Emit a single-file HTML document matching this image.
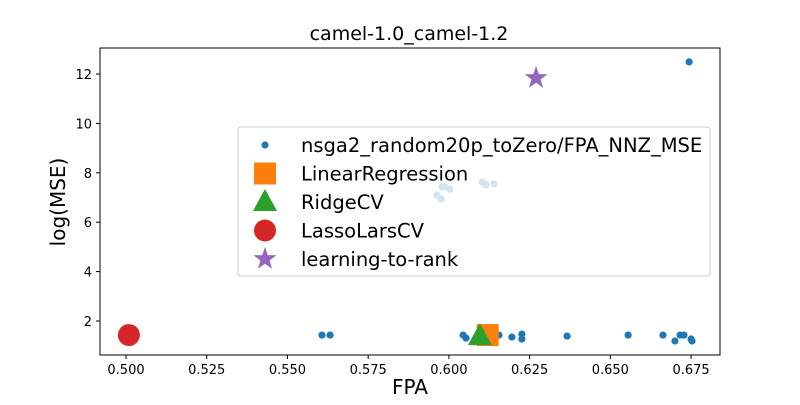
<!DOCTYPE html>
<html><head><meta charset="utf-8"><style>
body{margin:0;background:#fff}
svg{font-family:"DejaVu Sans","Liberation Sans",sans-serif}
</style></head><body>
<svg id="c" width="800" height="400" xmlns="http://www.w3.org/2000/svg"></svg>
<script>
const ptsFPA=[0.5607,0.5632,0.6044,0.6053,0.6155,0.6195,0.6226,0.6226,0.6366,0.6555,0.6663,0.6700,0.6716,0.6728,0.6753,0.6750,0.6744,0.5963,0.5976,0.5979,0.5988,0.6003,0.6103,0.6115,0.6140];
const ptsMSE=[1.43,1.43,1.43,1.31,1.43,1.35,1.47,1.27,1.39,1.43,1.43,1.19,1.43,1.43,1.19,1.27,12.49,7.10,6.94,7.43,7.43,7.34,7.63,7.51,7.55];
const lrPt=[0.612,1.43];
const ridgePt=[0.6096,1.39];
const lassoPt=[0.5009,1.43];
const ltrPt=[0.627,11.84];
const xTicks=[0.500,0.525,0.550,0.575,0.600,0.625,0.650,0.675];
const yTicks=[2,4,6,8,10,12];
const legendLabels=["nsga2_random20p_toZero/FPA_NNZ_MSE","LinearRegression","RidgeCV","LassoLarsCV","learning-to-rank"];

const L=100,R=720,T=48,B=355;
const x=f=>126+(f-0.5)*3229;
const y=v=>321-(v-2)*24.7;
const svg=document.getElementById('c');
const NS="http://www.w3.org/2000/svg";
function mk(tag,a,parent){const e=document.createElementNS(NS,tag);for(const k in a)e.setAttribute(k,a[k]);(parent||svg).appendChild(e);return e;}

let t=mk('text',{x:409,y:40,'text-anchor':'middle','font-size':19});t.textContent='camel-1.0_camel-1.2';



const pg=mk('g',{});


ptsFPA.forEach((f,i)=>{const c=mk('circle',{cx:x(f),cy:y(ptsMSE[i]),r:3.6,fill:'#1f77b4'},pg);

});

let e;
e=mk('rect',{x:x(lrPt[0])-11,y:y(lrPt[1])-11,width:22,height:22,fill:'#ff7f0e'});


const tx=x(ridgePt[0]),ty=y(ridgePt[1]);
e=mk('polygon',{points:`${tx},${ty-13} ${tx-12},${ty+9} ${tx+12},${ty+9}`,fill:'#2ca02c'});


e=mk('circle',{cx:x(lassoPt[0]),cy:y(lassoPt[1]),r:11,fill:'#d62728'});


function star(cx,cy,r){let p=[];for(let i=0;i<10;i++){const a=-Math.PI/2+i*Math.PI/5,rr=i%2?r*0.4:r;p.push((cx+rr*Math.cos(a)).toFixed(1)+','+(cy+rr*Math.sin(a)).toFixed(1));}return p.join(' ');}
e=mk('polygon',{points:star(x(ltrPt[0]),y(ltrPt[1]),12),fill:'#9467bd'});



e=mk('rect',{x:L,y:T,width:R-L,height:B-T,fill:'none',stroke:'#000','stroke-width':1});



xTicks.forEach(v=>{const px=x(v);mk('line',{x1:px,x2:px,y1:B,y2:B+4,stroke:'#000'});
const tt=mk('text',{x:px,y:B+19,'text-anchor':'middle','font-size':13});tt.textContent=v.toFixed(3);

});
yTicks.forEach(v=>{const py=y(v);mk('line',{x1:L-4,x2:L,y1:py,y2:py,stroke:'#000'});
const tt=mk('text',{x:L-8,y:py+5,'text-anchor':'end','font-size':13});tt.textContent=v;

});

t=mk('text',{x:410,y:394,'text-anchor':'middle','font-size':20});t.textContent='FPA';


t=mk('text',{x:0,y:0,'text-anchor':'middle','font-size':20,transform:'translate(65,202) rotate(-90)'});t.textContent='log(MSE)';



const lg=mk('g',{});


mk('rect',{x:238,y:127,width:472,height:149,rx:3,fill:'#fff','fill-opacity':0.8,stroke:'#ccc'},lg);
legendLabels.forEach((lab,i)=>{const cy=145+i*28.5,cx=265;
if(i==0)mk('circle',{cx,cy,r:3.6,fill:'#1f77b4'},lg);
if(i==1)mk('rect',{x:cx-11,y:cy-11,width:22,height:22,fill:'#ff7f0e'},lg);
if(i==2)mk('polygon',{points:`${cx},${cy-13} ${cx-12},${cy+9} ${cx+12},${cy+9}`,fill:'#2ca02c'},lg);
if(i==3)mk('circle',{cx,cy,r:11,fill:'#d62728'},lg);
if(i==4)mk('polygon',{points:star(cx,cy,12),fill:'#9467bd'},lg);
const tt=mk('text',{x:301,y:cy+7,'font-size':19.5},lg);tt.textContent=lab;

});
</script>
</body></html>
